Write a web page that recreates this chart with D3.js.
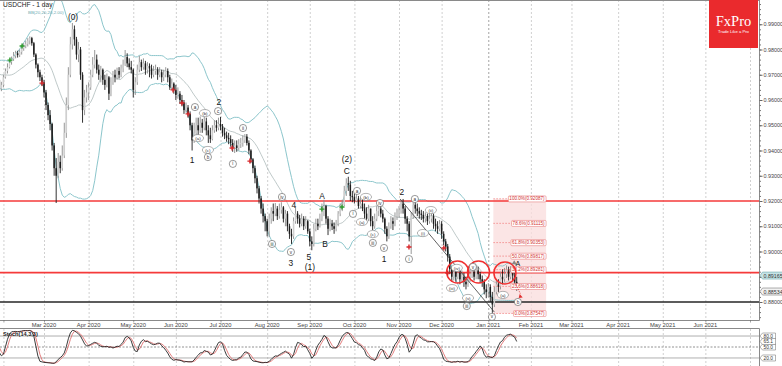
<!DOCTYPE html>
<html>
<head>
<meta charset="utf-8">
<script src="https://cdn.jsdelivr.net/npm/d3@7"></script>
<style>
  body { margin: 0; background: #fff; }
  svg { display: block; font-family: "Liberation Sans", Arial, sans-serif; }
</style>
</head>
<body>
<svg width="782" height="366"></svg>
<script>

// daily USDCHF bars from 1 Jan 2020, in pips (0.0001). open = previous close
const closes = [
    9680,9700,9705,9690,9720,9745,9760,9735,9710,9685,
    9660,9670,9690,9700,9685,9705,9710,9725,9720,9700,
    9680,9645,9660,9690,9715,9730,9752,9762,9775,9785,
    9778,9790,9805,9815,9822,9835,9845,9825,9780,9740,
    9710,9690,9670,9630,9580,9540,9505,9420,9330,9300,
    9355,9330,9380,9470,9580,9700,9820,9880,9840,9780,
    9800,9700,9560,9610,9630,9650,9700,9740,9760,9720,
    9700,9720,9680,9660,9690,9625,9670,9700,9690,9715,
    9700,9725,9740,9770,9745,9730,9720,9640,9670,9720,
    9750,9730,9745,9720,9735,9725,9700,9715,9720,9700,
    9710,9690,9700,9715,9690,9650,9665,9640,9620,9625,
    9600,9590,9560,9570,9545,9500,9440,9470,9500,9480,
    9510,9490,9515,9480,9460,9445,9480,9500,9490,9505,
    9495,9470,9460,9450,9445,9430,9410,9420,9410,9425,
    9430,9440,9455,9430,9400,9365,9330,9290,9250,9210,
    9170,9140,9120,9080,9130,9160,9150,9170,9140,9165,
    9175,9130,9150,9100,9070,9060,9120,9150,9130,9110,
    9130,9100,9120,9080,9040,9030,9090,9110,9100,9130,
    9160,9180,9130,9090,9110,9100,9090,9110,9150,9170,
    9185,9240,9270,9265,9220,9215,9200,9210,9180,9190,
    9170,9150,9130,9170,9120,9100,9130,9160,9170,9150,
    9130,9090,9060,9100,9120,9110,9140,9150,9160,9190,
    9170,9130,9110,9060,9140,9185,9170,9160,9150,9145,
    9130,9140,9120,9130,9140,9110,9100,9090,9110,9070,
    9040,9020,8980,8930,8900,8920,8900,8915,8890,8900,
    8880,8870,8890,8910,8920,8900,8925,8910,8890,8880,
    8850,8840,8860,8820,8790,8840,8870,8860,8900,8890,
    8910,8930,8900,8920,8905,8880,8853
]

const highs = [
    9690,9715,9720,9712,9735,9755,9770,9765,9740,9715,
    9690,9685,9700,9715,9710,9720,9730,9740,9745,9730,
    9712,9690,9672,9700,9725,9745,9760,9772,9790,9795,
    9795,9800,9812,9825,9835,9845,9852,9850,9830,9785,
    9745,9720,9700,9680,9640,9590,9560,9510,9430,9370,
    9390,9380,9420,9510,9610,9730,9850,9905,9895,9850,
    9830,9810,9710,9640,9660,9670,9720,9770,9798,9780,
    9740,9735,9725,9700,9705,9695,9690,9715,9720,9728,
    9730,9740,9760,9798,9785,9765,9755,9725,9690,9740,
    9775,9760,9765,9755,9750,9745,9740,9735,9740,9730,
    9730,9720,9720,9730,9725,9700,9685,9670,9660,9650,
    9635,9620,9600,9590,9580,9555,9510,9510,9530,9530,
    9535,9525,9540,9530,9500,9490,9500,9520,9520,9530,
    9533,9505,9490,9475,9470,9460,9445,9440,9440,9445,
    9450,9460,9465,9465,9440,9405,9370,9340,9300,9260,
    9220,9190,9150,9130,9150,9175,9190,9192,9180,9190,
    9195,9180,9165,9160,9110,9090,9135,9178,9160,9145,
    9150,9140,9140,9125,9090,9060,9110,9130,9130,9150,
    9190,9205,9185,9140,9130,9125,9115,9125,9160,9190,
    9205,9260,9290,9296,9280,9240,9235,9240,9220,9215,
    9210,9190,9175,9185,9170,9140,9150,9180,9185,9180,
    9165,9135,9100,9115,9140,9135,9155,9170,9180,9205,
    9208,9180,9140,9120,9155,9200,9200,9190,9175,9165,
    9160,9155,9150,9160,9165,9150,9130,9120,9125,9120,
    9080,9050,9030,8990,8940,8945,8935,8940,8930,8925,
    8915,8900,8910,8930,8945,8935,8945,8940,8920,8905,
    8890,8870,8875,8870,8840,8860,8890,8890,8920,8930,
    8935,8945,8940,8942,8935,8920,8900
]

const lows = [
    9660,9670,9685,9675,9685,9710,9735,9725,9700,9670,
    9640,9630,9660,9680,9670,9675,9690,9700,9705,9690,
    9665,9630,9635,9650,9685,9705,9725,9740,9755,9765,
    9768,9770,9780,9795,9805,9812,9820,9815,9770,9725,
    9690,9675,9655,9610,9560,9520,9480,9400,9300,9192,
    9290,9310,9320,9370,9450,9560,9690,9800,9815,9760,
    9750,9680,9510,9540,9590,9600,9640,9690,9725,9705,
    9680,9670,9660,9640,9650,9600,9615,9660,9670,9680,
    9685,9690,9710,9735,9730,9720,9705,9610,9620,9660,
    9710,9715,9720,9700,9705,9690,9685,9690,9700,9680,
    9690,9670,9675,9690,9670,9640,9640,9625,9600,9605,
    9585,9575,9545,9550,9530,9480,9400,9430,9450,9460,
    9470,9470,9480,9460,9430,9430,9440,9470,9475,9480,
    9480,9455,9445,9435,9425,9415,9395,9390,9395,9400,
    9410,9415,9430,9420,9385,9350,9310,9270,9230,9190,
    9150,9115,9080,9060,9058,9110,9120,9140,9125,9130,
    9150,9115,9100,9080,9050,9030,9050,9110,9110,9095,
    9100,9085,9090,9070,9020,9005,9020,9080,9085,9095,
    9120,9140,9110,9065,9080,9085,9070,9080,9100,9140,
    9160,9180,9220,9240,9200,9195,9190,9195,9170,9170,
    9160,9130,9110,9120,9100,9085,9090,9120,9140,9135,
    9115,9070,9040,9050,9090,9085,9100,9125,9135,9150,
    9150,9110,9080,9040,8990,9130,9150,9140,9130,9125,
    9115,9115,9105,9110,9115,9090,9080,9070,9080,9050,
    9025,9000,8960,8910,8880,8885,8880,8890,8870,8875,
    8860,8850,8860,8880,8895,8885,8890,8890,8875,8860,
    8830,8815,8820,8800,8757,8780,8830,8840,8850,8870,
    8880,8895,8885,8890,8885,8870,8845
]

// price axis ticks
const priceTicks = [0.88, 0.89, 0.90, 0.91, 0.92, 0.93, 0.94, 0.95, 0.96, 0.97, 0.98, 0.99]

// horizontal levels
const redLevels = [0.92, 0.89165]
const blackLevels = [0.88]
const bidPrice = 0.88534

// fibonacci retracement (bar index from / to, prices)
const fibBars = [264.5, 290.5]
const fibPrices = [0.92087, 0.87547]
const fibLevels = [100, 78.6, 61.8, 50, 38.2, 23.6, 0]

// trend line: [bar index, price]
const trendLine = [[218.5, 0.9208], [265, 0.8760]]

// wave labels: [bar index, price, text, kind]
const waveLabels = [
    [57.3, 0.9929, "(0)", "big"],
    [116, 0.9362, "1", "big"],
    [129.2, 0.9594, "2", "big"],
    [164.7, 0.8955, "3", "big"],
    [166.2, 0.9186, "4", "big"],
    [173.6, 0.8978, "5", "big"],
    [174.1, 0.8937, "(1)", "big"],
    [180, 0.9218, "A", "big"],
    [181.5, 0.9030, "B", "big"],
    [192.3, 0.9366, "(2)", "big"],
    [192.3, 0.9318, "C", "big"],
    [210.6, 0.8972, "1", "big"],
    [219.4, 0.9234, "2", "big"],
    [276.6, 0.8954, "A", "small"],
    [117.4, 0.9572, "a", "circ"],
    [122.3, 0.9548, "(b)", "paren"],
    [118.9, 0.9449, "(a)", "paren"],
    [123.8, 0.9402, "(c)", "paren"],
    [123.8, 0.9374, "b", "circ"],
    [128.8, 0.9556, "c", "circ"],
    [136.1, 0.9347, "i", "circ"],
    [141.1, 0.9489, "ii", "circ"],
    [155.4, 0.9030, "iii", "circ"],
    [160.3, 0.9216, "iv", "circ"],
    [164.7, 0.8998, "v", "circ"],
    [197.3, 0.9240, "a", "circ"],
    [195.3, 0.9149, "i", "circ"],
    [201.7, 0.9216, "(b)", "paren"],
    [199.7, 0.9117, "(a)", "paren"],
    [205.1, 0.9069, "(c)", "paren"],
    [205.1, 0.9034, "iii", "circ"],
    [208.6, 0.9192, "iv", "circ"],
    [210.6, 0.9014, "v", "circ"],
    [222.9, 0.8970, "i", "circ"],
    [225.8, 0.9208, "a", "circ"],
    [229.8, 0.9073, "(i)", "paren"],
    [233.7, 0.9164, "(ii)", "paren"],
    [246.5, 0.8935, "(iv)", "paren"],
    [244.1, 0.8855, "(iii)", "paren"],
    [252, 0.8816, "(v)", "paren"],
    [251.4, 0.8784, "iii", "circ"],
    [254.4, 0.8939, "v", "circ"],
    [263.8, 0.8741, "v", "circ"],
    [269.2, 0.8828, "(a)", "paren"],
    [276.6, 0.8800, "b", "circ"]
]

// red highlight circles: [bar index, price]
const highlights = [[246.9, 0.8919], [257.2, 0.8919], [270.2, 0.8915]]

// signal crosses: [bar index, price]
const redMarks = [[42, 0.9667], [106.6, 0.9640], [111, 0.9588], [114, 0.9545], [135.7, 0.9410],
    [144.5, 0.9358], [222.9, 0.9018], [240.1, 0.9014], [242, 0.8915]]
const greenMarks = [[26.2, 0.9758], [32.2, 0.9814], [180, 0.9168], [189.9, 0.9176]]

// stochastic levels
const stochLevels = [80, 50, 20]


const svg = d3.select("svg")
const plotRight = 759
const plotBottom = 320

// weekday calendar
const days = []
for (let d = new Date(2020, 0, 1); d <= new Date(2021, 6, 31); d.setDate(d.getDate() + 1)) {
    if (d.getDay() > 0 && d.getDay() < 6) days.push(new Date(d))
}
const monthStarts = []
days.forEach((d, i) => {
    if (i > 0 && d.getMonth() !== days[i - 1].getMonth()) monthStarts.push({i: i, date: d})
})
const idxOf = (y, m) => monthStarts.find(s => s.date.getFullYear() === y && s.date.getMonth() === m).i

const x = d3.scaleLinear().domain([idxOf(2020, 2), idxOf(2021, 6)]).range([44, 750])
const y = d3.scaleLinear().domain([0.88, 0.92]).range([302, 201])
const ys = d3.scaleLinear().domain([0, 100]).range([365.3, 328.7])

const bars = closes.map((c, i) => ({
    i: i,
    o: (i > 0 ? closes[i - 1] : c) / 10000,
    c: c / 10000,
    h: highs[i] / 10000,
    l: lows[i] / 10000
}))

// bollinger 20, 2
const bands = []
bars.forEach((b, i) => {
    if (i < 19) return
    const win = bars.slice(i - 19, i + 1).map(d => d.c)
    const m = d3.mean(win)
    const sd = Math.sqrt(d3.mean(win.map(v => (v - m) * (v - m))))
    bands.push({i: i, m: m, up: m + 2 * sd, lo: m - 2 * sd})
})

// stochastic 14,3,3
const num = [], den = []
bars.forEach((b, i) => {
    if (i < 13) { num.push(null); den.push(null); return }
    const win = bars.slice(i - 13, i + 1)
    const ll = d3.min(win, d => d.l), hh = d3.max(win, d => d.h)
    num.push(b.c - ll)
    den.push(hh - ll)
})
const stK = bars.map((b, i) => {
    if (i < 15) return null
    const n = num[i] + num[i - 1] + num[i - 2]
    const dd = den[i] + den[i - 1] + den[i - 2]
    return dd === 0 ? 50 : n / dd * 100
})
const stD = stK.map((v, i) => (i < 17 ? null : (stK[i] + stK[i - 1] + stK[i - 2]) / 3))


// clip paths
const defs = svg.append("defs")
defs.append("clipPath").attr("id", "mainClip")
    .append("rect").attr("x", 0).attr("y", 0).attr("width", plotRight).attr("height", plotBottom)
defs.append("clipPath").attr("id", "stochClip")
    .append("rect").attr("x", 0).attr("y", 329).attr("width", plotRight).attr("height", 37)

const main = svg.append("g").attr("clip-path", "url(#mainClip)")
const stoch = svg.append("g").attr("clip-path", "url(#stochClip)")

// month grid
const visibleMonths = monthStarts.filter(s => x(s.i) > 0 && x(s.i) < plotRight)
;[[main, 0, plotBottom], [stoch, 329, 366]].forEach(([g, y0, y1]) => {
    g.selectAll("line.grid")
        .data(visibleMonths)
        .enter()
        .append("line")
        .attr("class", "grid")
        .attr("x1", d => x(d.i) + 0.5).attr("x2", d => x(d.i) + 0.5)
        .attr("y1", y0).attr("y2", y1)
        .attr("stroke", d => d.date.getMonth() === 0 ? "#8a8a8a" : "#c4c4c4")
        .attr("stroke-width", 0.8)
        .attr("stroke-dasharray", "2,2")
})

// fibonacci shade
const fibY = p => y(fibPrices[1] + (fibPrices[0] - fibPrices[1]) * p / 100)
main.append("rect")
    .attr("x", x(fibBars[0])).attr("y", y(fibPrices[0]))
    .attr("width", x(fibBars[1]) - x(fibBars[0]))
    .attr("height", y(fibPrices[1]) - y(fibPrices[0]))
    .attr("fill", "#fadcdc").attr("opacity", 0.75)

// bollinger
const bandLine = key => d3.line().x(d => x(d.i)).y(d => y(d[key]))
main.append("path").attr("d", bandLine("up")(bands)).attr("fill", "none").attr("stroke", "#8cc6cc").attr("stroke-width", 1)
main.append("path").attr("d", bandLine("lo")(bands)).attr("fill", "none").attr("stroke", "#8cc6cc").attr("stroke-width", 1)
main.append("path").attr("d", bandLine("m")(bands)).attr("fill", "none").attr("stroke", "#a3b1b1").attr("stroke-width", 0.7)

// horizontal levels
main.selectAll("line.red")
    .data(redLevels)
    .enter()
    .append("line")
    .attr("x1", 0).attr("x2", plotRight)
    .attr("y1", d => y(d)).attr("y2", d => y(d))
    .attr("stroke", "#f53a3a").attr("stroke-width", 1.6)
main.selectAll("line.black")
    .data(blackLevels)
    .enter()
    .append("line")
    .attr("x1", 0).attr("x2", plotRight)
    .attr("y1", d => y(d)).attr("y2", d => y(d))
    .attr("stroke", "#262626").attr("stroke-width", 1.5)

// candles
const candles = main.selectAll("g.bar")
    .data(bars.filter(b => x(b.i) > -3))
    .enter()
    .append("g")
candles.append("line")
    .attr("x1", d => x(d.i)).attr("x2", d => x(d.i))
    .attr("y1", d => y(Math.max(d.h, d.o, d.c))).attr("y2", d => y(Math.min(d.l, d.o, d.c)))
    .attr("stroke", d => d.c >= d.o ? "#8c8c8c" : "#1c1c1c")
    .attr("stroke-width", 0.9)
candles.append("rect")
    .attr("x", d => x(d.i) - 0.75)
    .attr("width", 1.5)
    .attr("y", d => y(Math.max(d.o, d.c)))
    .attr("height", d => Math.max(0.8, Math.abs(y(d.o) - y(d.c))))
    .attr("fill", d => d.c >= d.o ? "#cfcfcf" : "#1c1c1c")

// fibonacci levels
fibLevels.forEach(p => {
    const yy = fibY(p)
    const price = fibPrices[1] + (fibPrices[0] - fibPrices[1]) * p / 100
    main.append("line")
        .attr("x1", x(fibBars[0])).attr("x2", x(fibBars[1]) - 2)
        .attr("y1", yy).attr("y2", yy)
        .attr("stroke", "#ee5a5a").attr("stroke-width", 0.6).attr("stroke-dasharray", "1.5,1.5")
    const t = main.append("text")
        .attr("x", x(fibBars[1]) - 1.5).attr("y", yy + 1.6)
        .attr("text-anchor", "end")
        .attr("font-size", 4.6)
        .attr("fill", "#d23030")
        .text(d3.format(".1f")(p) + "%(" + d3.format(".5f")(price) + ")")
    const bb = t.node().getBBox()
    main.insert("rect", () => t.node())
        .attr("x", bb.x - 1).attr("y", bb.y - 0.5)
        .attr("width", bb.width + 2).attr("height", bb.height + 1)
        .attr("rx", 1)
        .attr("fill", "#fff").attr("stroke", "#e46a6a").attr("stroke-width", 0.5)
})

// trend line
main.append("line")
    .attr("x1", x(trendLine[0][0])).attr("y1", y(trendLine[0][1]))
    .attr("x2", x(trendLine[1][0])).attr("y2", y(trendLine[1][1]))
    .attr("stroke", "#3a3a3a").attr("stroke-width", 0.8)

// highlight circles
main.selectAll("circle.hl")
    .data(highlights)
    .enter()
    .append("circle")
    .attr("cx", d => x(d[0])).attr("cy", d => y(d[1])).attr("r", 11)
    .attr("fill", "none").attr("stroke", "#f03030").attr("stroke-width", 1.5)

// crosses
const drawCross = (data, color) => {
    main.selectAll(null)
        .data(data)
        .enter()
        .append("path")
        .attr("d", d => {
            const cx = x(d[0]), cy = y(d[1])
            return `M${cx - 2.5},${cy}H${cx + 2.5}M${cx},${cy - 2.5}V${cy + 2.5}`
        })
        .attr("stroke", color).attr("stroke-width", 1.4)
}
drawCross(redMarks, "#d8262a")
drawCross(greenMarks, "#2c9a2c")

// wave labels
waveLabels.forEach(([i, p, txt, kind]) => {
    const cx = x(i), cy = y(p)
    if (kind === "big" || kind === "small") {
        const fs = kind === "big" ? 8.4 : 7
        main.append("text")
            .attr("x", cx).attr("y", cy + fs * 0.36)
            .attr("text-anchor", "middle")
            .attr("font-size", fs).attr("fill", "#151515")
            .text(txt)
        return
    }
    if (kind === "circ") {
        main.append("circle").attr("cx", cx).attr("cy", cy).attr("r", 3.6)
            .attr("fill", "#fff").attr("stroke", "#555").attr("stroke-width", 0.6)
    } else {
        main.append("ellipse").attr("cx", cx).attr("cy", cy).attr("rx", 5.6).attr("ry", 3.6)
            .attr("fill", "#fff").attr("stroke", "#666").attr("stroke-width", 0.5)
    }
    main.append("text")
        .attr("x", cx).attr("y", cy + 1.6)
        .attr("text-anchor", "middle")
        .attr("font-size", kind === "circ" ? 4.6 : 4.4).attr("fill", "#333")
        .text(txt)
})

// small arrows at the latest swing
const last = bars[bars.length - 1]
main.append("path")
    .attr("d", `M${x(last.i) - 5},${y(0.8961) + 3}l2.5,-4l2.5,4z`)
    .attr("fill", "#888")
main.append("line")
    .attr("x1", x(last.i) - 1).attr("y1", y(0.8873))
    .attr("x2", x(last.i) + 4).attr("y2", y(0.8830))
    .attr("stroke", "#e03030").attr("stroke-width", 0.8).attr("stroke-dasharray", "1,1")
main.append("path")
    .attr("d", `M${x(last.i) + 3},${y(0.8822) - 2.5}l3,3.5l-4,0.5z`)
    .attr("fill", "#e03030")

// frame of main
svg.append("line").attr("x1", 0).attr("x2", plotRight + 0.5).attr("y1", 0.5).attr("y2", 0.5).attr("stroke", "#8a8a8a")
svg.append("line").attr("x1", 0).attr("x2", plotRight + 0.5).attr("y1", plotBottom + 0.5).attr("y2", plotBottom + 0.5).attr("stroke", "#8a8a8a")
svg.append("line").attr("x1", plotRight + 0.5).attr("x2", plotRight + 0.5).attr("y1", 0).attr("y2", plotBottom + 0.5).attr("stroke", "#8a8a8a")

// price axis
const minorTicks = d3.range(0.872, 0.999, 0.002).filter(v => y(v) > 2 && y(v) < plotBottom)
const axisMinor = svg.append("g")
    .attr("transform", `translate(${plotRight + 0.5},0)`)
    .call(d3.axisRight(y).tickValues(minorTicks).tickSize(1.5).tickFormat(""))
axisMinor.select(".domain").remove()
axisMinor.selectAll("line").attr("stroke", "#777")
const axisMain = svg.append("g")
    .attr("transform", `translate(${plotRight + 0.5},0)`)
    .call(d3.axisRight(y).tickValues(priceTicks).tickSize(3).tickPadding(1).tickFormat(d3.format(".5f")))
axisMain.select(".domain").remove()
axisMain.selectAll("line").attr("stroke", "#666")
axisMain.selectAll("text").attr("font-size", 5.4).attr("fill", "#444").attr("font-family", "Liberation Sans, Arial, sans-serif")

// price boxes on axis
const priceBox = (p, fill, stroke) => {
    const g = svg.append("g").attr("transform", `translate(${plotRight + 1},${y(p) + 3})`)
    g.append("path").attr("d", "M0,0l2.5,-3.5h20.5v7h-20.5z").attr("fill", fill).attr("stroke", stroke).attr("stroke-width", 0.6)
    g.append("text").attr("x", 3.5).attr("y", 2).attr("font-size", 5.3).attr("fill", "#333")
        .text(d3.format(".5f")(p))
}
priceBox(redLevels[1], "#c6e4e6", "#6fa8ae")
priceBox(bidPrice, "#f2f2f2", "#777")

// month labels
svg.selectAll("text.month")
    .data(visibleMonths.filter(d => x(d.i) > 20 && x(d.i) < 730))
    .enter()
    .append("text")
    .attr("x", d => x(d.i)).attr("y", 327)
    .attr("text-anchor", "middle")
    .attr("font-size", 5.8).attr("fill", "#444")
    .text(d => d3.timeFormat("%b %Y")(d.date))
svg.selectAll("line.mtick")
    .data(visibleMonths)
    .enter()
    .append("line")
    .attr("x1", d => x(d.i) + 0.5).attr("x2", d => x(d.i) + 0.5)
    .attr("y1", plotBottom).attr("y2", plotBottom + 2.5)
    .attr("stroke", "#666").attr("stroke-width", 0.6)

// stochastic panel
svg.append("line").attr("x1", 0).attr("x2", plotRight + 0.5).attr("y1", 328.5).attr("y2", 328.5).attr("stroke", "#8a8a8a")
svg.append("line").attr("x1", plotRight + 0.5).attr("x2", plotRight + 0.5).attr("y1", 328.5).attr("y2", 366).attr("stroke", "#8a8a8a")
stoch.selectAll("line.lvl")
    .data(stochLevels)
    .enter()
    .append("line")
    .attr("x1", 0).attr("x2", plotRight)
    .attr("y1", d => ys(d)).attr("y2", d => ys(d))
    .attr("stroke", d => d === 50 ? "#777" : "#9a9a9a")
    .attr("stroke-width", 0.8)
    .attr("stroke-dasharray", d => d === 50 ? "2,1.5" : null)

const stochLine = arr => d3.line()
    .defined(d => arr[d.i] !== null)
    .x(d => x(d.i)).y(d => ys(arr[d.i]))
stoch.append("path").attr("d", stochLine(stD)(bars)).attr("fill", "none").attr("stroke", "#e07070").attr("stroke-width", 0.9)
stoch.append("path").attr("d", stochLine(stK)(bars)).attr("fill", "none").attr("stroke", "#262626").attr("stroke-width", 0.9)

svg.append("text").attr("x", 3).attr("y", 336).attr("font-size", 5.6).attr("font-weight", "bold").attr("fill", "#222")
    .text("Stoch(14,3,3)")

const stochBox = v => {
    const g = svg.append("g").attr("transform", `translate(${plotRight + 1},${ys(v)})`)
    g.append("path").attr("d", "M0,0l2.5,-3h13v6h-13z").attr("fill", "#fff").attr("stroke", "#666").attr("stroke-width", 0.5)
    g.append("text").attr("x", 3.5).attr("y", 1.8).attr("font-size", 4.8).attr("fill", "#333")
        .text(d3.format(".1f")(v))
}
stochLevels.forEach(stochBox)
stochBox(stK[stK.length - 1])

// title texts
svg.append("text").attr("x", 3).attr("y", 7).attr("font-size", 6.6).attr("fill", "#222").text("USDCHF - 1 day")
svg.append("text").attr("x", 28).attr("y", 14).attr("font-size", 4.4).attr("fill", "#6aa9b0").text("BB(20,20,20,2.00)")

// logo
const logo = svg.append("g").attr("transform", "translate(709,0)")
logo.append("rect").attr("width", 49).attr("height", 48).attr("fill", "#ea2a2d")
logo.append("text").attr("x", 24.5).attr("y", 26).attr("text-anchor", "middle")
    .attr("font-family", "Liberation Serif, serif").attr("font-size", 14.5).attr("fill", "#fff")
    .text("FxPro")
logo.append("text").attr("x", 24.5).attr("y", 33).attr("text-anchor", "middle")
    .attr("font-size", 4.2).attr("fill", "#fff")
    .text("Trade Like a Pro")

</script>
</body>
</html>
